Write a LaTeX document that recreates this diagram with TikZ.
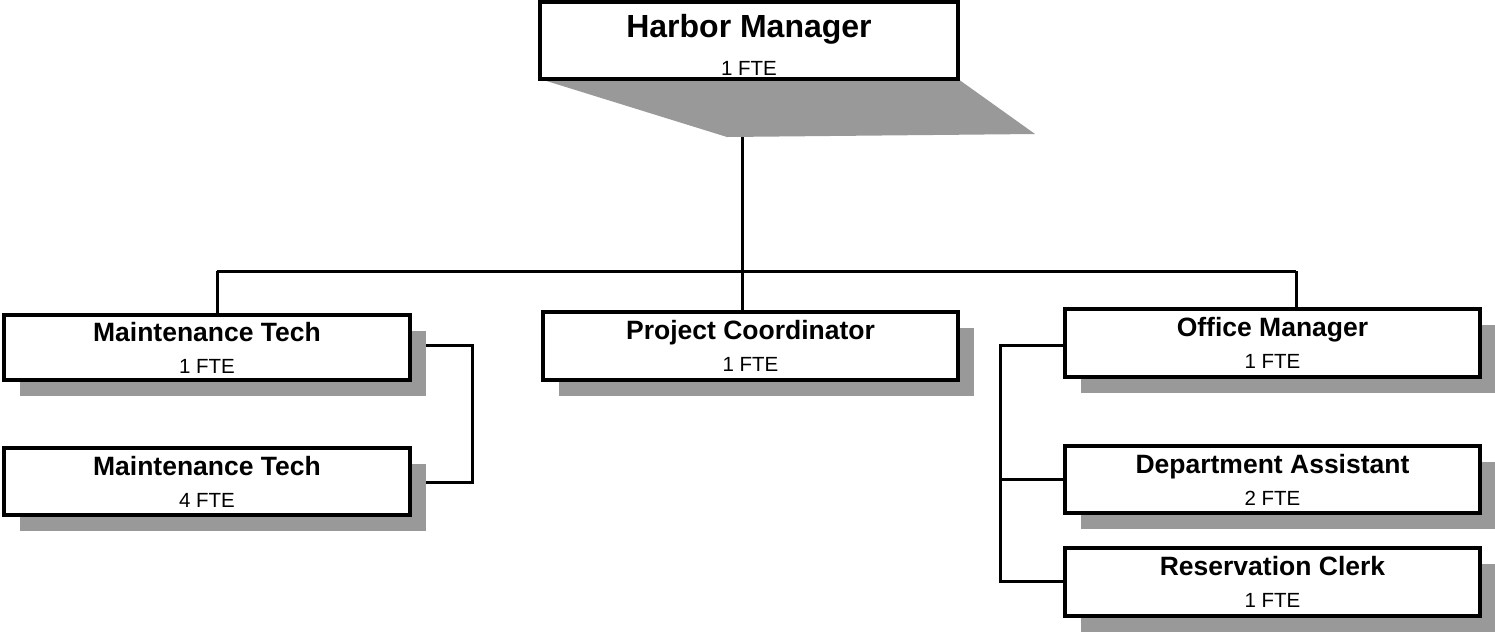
\documentclass[tikz,border=0pt]{standalone}
\usepackage{fontspec}
\setmainfont{Liberation Sans}
\usetikzlibrary{shadows}

\newcommand{\jobtitle}[1]{{\bfseries\fontsize{26.5}{32}\selectfont #1}}
\newcommand{\ftecount}[1]{{\fontsize{20.5}{32}\selectfont #1}}

\tikzset{
    post/.style={draw, line width=3.5pt, fill=white, inner sep=0pt, align=center,
        font=\fontsize{20}{32}\selectfont},
    shadowpost/.style={post,
        drop shadow={shadow xshift=16pt, shadow yshift=-16pt, fill=shadowgray, opacity=1}},
    link/.style={line width=3pt},
}
\definecolor{shadowgray}{gray}{0.6}

\begin{document}
\begin{tikzpicture}[x=1pt, y=-1pt]
    \useasboundingbox (0,0) rectangle (1495,633);

    % top box and its slanted shadow
    \fill[shadowgray] (540,79) -- (958,79) -- (1035,134) -- (727,137) -- cycle;
    \node[post, minimum width=418pt, minimum height=77pt, font=\fontsize{20}{38}\selectfont]
        (hm) at (749,40.5)
        {\rule{0pt}{31pt}{\bfseries\fontsize{32}{38}\selectfont Harbor Manager}\\\ftecount{1 FTE}};

    % connectors
    \coordinate (hmfoot) at (742,137);
    \coordinate (busl) at (217,271);
    \coordinate (busr) at (1296,271);
    \coordinate (mtbus) at (472,345);
    \coordinate (ombus) at (1000,345);

    \draw[link] (hmfoot) -- (hmfoot |- busl);
    \draw[link] (busl) -- (busr);
    \draw[link] (busl) -- (217,315);
    \draw[link] (hmfoot |- busl) -- (742,312);
    \draw[link] (busr) -- (1296,309);

    \draw[link] (407,345) -- (mtbus) |- (407,482);
    \draw[link] (1066,345) -- (ombus) |- (1066,581);
    \draw[link] (ombus |- 0,479) -- (1066,479);

    % boxes
    \node[shadowpost, minimum width=406pt, minimum height=65pt] (mt1) at (207,347.5)
        {\jobtitle{Maintenance Tech}\\\ftecount{1 FTE}};
    \node[shadowpost, minimum width=406pt, minimum height=67pt] (mt2) at (207,481.5)
        {\jobtitle{Maintenance Tech}\\\ftecount{4 FTE}};
    \node[shadowpost, minimum width=415pt, minimum height=68pt] (pc) at (750.5,346)
        {\jobtitle{Project Coordinator}\\\ftecount{1 FTE}};
    \node[shadowpost, minimum width=415pt, minimum height=68pt] (om) at (1272.5,343)
        {\jobtitle{Office Manager}\\\ftecount{1 FTE}};
    \node[shadowpost, minimum width=415pt, minimum height=67pt] (da) at (1272.5,479.5)
        {\jobtitle{Department Assistant}\\\ftecount{2 FTE}};
    \node[shadowpost, minimum width=415pt, minimum height=68pt] (rc) at (1272.5,582)
        {\jobtitle{Reservation Clerk}\\\ftecount{1 FTE}};
\end{tikzpicture}
\end{document}
